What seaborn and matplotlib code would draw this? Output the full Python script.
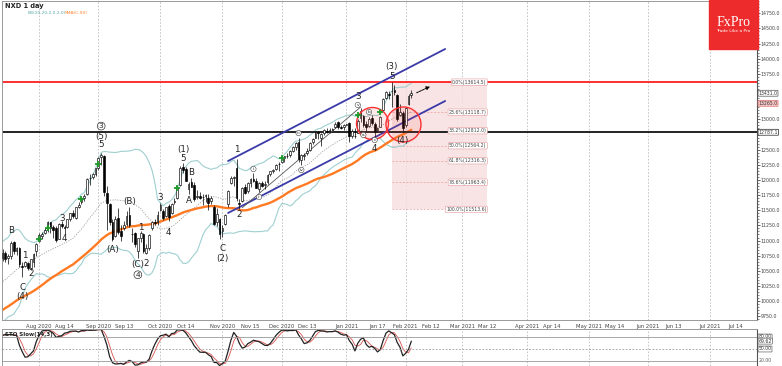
import numpy as np
import pandas as pd
import matplotlib
matplotlib.use("Agg")
import matplotlib.pyplot as plt
import matplotlib.transforms as mtrans
from matplotlib.patches import Rectangle
import seaborn as sns

# _____1. DATA _____
START = "2020-07-15"

# closes before the visible window (May 5 - Jul 14 2020), only used for SMA / BB / stochastic
pre_close = [9050, 9120, 9210, 9330,
             9400, 9240, 9110, 9170, 9250,
             9400, 9350, 9480, 9390, 9420,
             9430, 9410, 9430, 9400, 9560,
             9600, 9670, 9700, 9620, 9820,
             9920, 9950, 10100, 9590, 9690,
             9800, 9920, 9980, 10000, 9940,
             10080, 10150, 9930, 10030, 9790,
             9920, 10160, 10280, 10340, 10350,
             10600, 10510, 10680, 10730, 10870,
             10580, 10690]

# daily OHLC, Jul 15 2020 - Feb 3 2021 (weekdays)
opens = [10720, 10790, 10710, 10740, 10980, 10820, 10880, 10580, 10580, 10630, 10540, 10640, 10820,
         10990, 11080, 11130, 11170, 11300, 11220, 11200, 11030, 11280, 11230, 11230, 11360, 11460, 11380, 11560,
         11640, 11700, 11760, 12030, 12050, 12100,
         12200, 12380, 12400, 11780, 11600, 11300, 11080, 11370, 11150, 11200, 11280, 11420, 11100, 11120,
         10820, 11040, 11100, 10800, 10880, 11200, 11300, 11300,
         11500, 11480, 11400, 11570, 11450, 11640, 11700, 11920, 12210, 12180, 11850, 11960,
         11920, 11720, 11740, 11720, 11730, 11700, 11650, 11560, 11310, 11350,
         11150, 11280, 11600, 11950, 12030, 12200, 11620, 11650, 11880, 11820, 11950, 12010, 11990, 11850, 11950,
         11920, 11960, 12090, 12140, 12180, 12260,
         12300, 12360, 12400, 12410, 12480, 12540, 12630, 12330, 12400, 12440, 12500, 12620, 12700, 12790,
         12700, 12770, 12810, 12800, 12830, 12880, 12950, 12880, 12870,
         12910, 12940, 12720, 12730, 12780, 13020, 13050, 12920, 12890, 13020, 12920,
         12800, 12880, 13150, 13360, 13420, 13460, 13480, 13400, 13080, 13100,
         12900, 13250, 13410]
highs = [10860, 10820, 10780, 10990, 10990, 10900, 10900, 10640, 10660, 10650, 10700, 10800, 10960,
         11120, 11140, 11200, 11320, 11310, 11260, 11240, 11290, 11330, 11250, 11360, 11460, 11500, 11560, 11640,
         11720, 11760, 12030, 12100, 12110, 12200,
         12380, 12440, 12410, 11900, 11620, 11350, 11400, 11530, 11260, 11320, 11480, 11550, 11200, 11140,
         11050, 11150, 11120, 10940, 11110, 11330, 11350, 11480,
         11620, 11520, 11560, 11600, 11620, 11700, 11880, 12230, 12275, 12210, 11970, 12030,
         11960, 11830, 11800, 11760, 11760, 11760, 11730, 11580, 11530, 11380,
         11250, 11440, 11840, 12070, 12070, 12350, 11680, 11880, 11930, 11960, 12040, 12115, 12040, 11960, 11990,
         11980, 12100, 12150, 12180, 12260, 12290,
         12400, 12400, 12450, 12490, 12560, 12620, 12690, 12430, 12440, 12530, 12620, 12700, 12790, 12800,
         12780, 12840, 12860, 12850, 12850, 12960, 12980, 12910, 12930,
         12930, 12960, 12840, 12850, 13000, 13190, 13080, 12970, 13040, 13070, 12960,
         12880, 13060, 13360, 13470, 13470, 13614.5, 13560, 13420, 13260, 13130,
         13210, 13420, 13480]
lows = [10660, 10640, 10620, 10700, 10780, 10760, 10560, 10400, 10560, 10520, 10520, 10560, 10750,
        10970, 11020, 11100, 11140, 11120, 11050, 10980, 11020, 11200, 11110, 11210, 11330, 11380, 11350, 11530,
        11600, 11650, 11750, 11920, 12010, 12070,
        12170, 12250, 11740, 11180, 11250, 10990, 11060, 11100, 11000, 11170, 11240, 11230, 10980, 10900,
        10710, 10980, 10800, 10780, 10850, 11170, 11250, 11250,
        11480, 11340, 11390, 11330, 11440, 11600, 11690, 11900, 12120, 11980, 11760, 11880,
        11660, 11680, 11680, 11580, 11640, 11500, 11610, 11260, 11240, 11030,
        11060, 11260, 11560, 11930, 11900, 11650, 11513.6, 11640, 11760, 11780, 11890, 11960, 11860, 11800, 11880,
        11850, 11930, 12060, 12120, 12170, 12140,
        12280, 12300, 12370, 12380, 12460, 12490, 12290, 12250, 12330, 12420, 12480, 12600, 12690, 12680,
        12560, 12740, 12770, 12780, 12820, 12860, 12840, 12840, 12830,
        12900, 12620, 12690, 12690, 12770, 12960, 12880, 12800, 12870, 12910, 12690,
        12790, 12870, 13140, 13340, 13340, 13200, 13400, 12980, 13050, 12790,
        12880, 13230, 13350]
closes = [10800, 10700, 10740, 10960, 10830, 10870, 10610, 10560, 10640, 10540, 10690, 10780, 10950,
          11090, 11110, 11180, 11300, 11200, 11170, 11010, 11270, 11240, 11210, 11350, 11450, 11400, 11550, 11590,
          11700, 11740, 12010, 12040, 12090, 12190,
          12360, 12420, 11800, 11620, 11300, 11030, 11360, 11140, 11080, 11260, 11400, 11250, 11110, 10940,
          11040, 11120, 10820, 10880, 11090, 11300, 11290, 11420,
          11580, 11380, 11550, 11390, 11610, 11660, 11870, 12200, 12170, 11990, 11930, 11890,
          11690, 11740, 11710, 11720, 11750, 11620, 11710, 11270, 11440, 11100,
          11210, 11420, 11820, 12040, 12050, 11700, 11600, 11860, 11790, 11950, 12010, 11980, 11870, 11950, 11900,
          11930, 12080, 12140, 12170, 12250, 12270,
          12370, 12390, 12400, 12480, 12540, 12610, 12350, 12420, 12410, 12470, 12610, 12680, 12780, 12770,
          12760, 12820, 12790, 12830, 12840, 12920, 12870, 12860, 12910,
          12920, 12720, 12810, 12720, 12980, 13130, 12900, 12880, 13010, 12940, 12790,
          12860, 13040, 13340, 13450, 13400, 13460, 13450, 13000, 13120, 12860,
          13180, 13390, 13431]

# Elliott wave labels (date, price, text)
wave_labels = [("2020-07-20", 11170, "B"), ("2020-07-24", 10230, "C"), ("2020-07-24", 10070, "(4)"),
               ("2020-07-27", 10760, "1"), ("2020-07-29", 10450, "2"),
               ("2020-08-13", 11370, "3"), ("2020-08-14", 11030, "4"),
               ("2020-09-02", 12724, "(5)"), ("2020-09-02", 12577, "5"),
               ("2020-09-08", 10860, "(A)"), ("2020-09-16", 11640, "(B)"), ("2020-09-21", 10600, "(C)"),
               ("2020-09-22", 11210, "1"), ("2020-09-24", 10617, "2"),
               ("2020-10-01", 11703, "3"), ("2020-10-06", 11125, "4"),
               ("2020-10-13", 12510, "(1)"), ("2020-10-13", 12362, "5"),
               ("2020-10-16", 12131, "B"), ("2020-10-15", 11669, "A"),
               ("2020-11-02", 10877, "C"), ("2020-11-02", 10712, "(2)"),
               ("2020-11-09", 12510, "1"), ("2020-11-10", 11422, "2"),
               ("2021-01-07", 13385, "3"), ("2021-01-15", 12527, "4"),
               ("2021-01-25", 13864, "(3)"), ("2021-01-25", 13715, "5"),
               ("2021-01-29", 12659, "(4)")]
big_circled = [("2020-09-02", 12889, "3"), ("2020-09-21", 10436, "4")]
small_circled = [("2020-11-17", 12181, "i"), ("2020-11-19", 11719, "ii"), ("2020-12-09", 12774, "iii"),
                 ("2020-12-10", 12164, "iv"), ("2021-01-07", 13237, "v"), ("2021-01-11", 12742, "a"),
                 ("2021-01-13", 13122, "b"), ("2021-01-15", 12659, "c")]
signals = [("2020-08-03", 11026), ("2020-08-06", 11207), ("2020-08-24", 11686), ("2020-09-01", 12263),
           ("2020-10-09", 11867), ("2020-12-01", 12362), ("2021-01-07", 13073), ("2021-01-19", 13122)]

channel_top = [("2020-11-04", 12313), ("2021-02-19", 14161)]
channel_bot = [("2020-11-04", 11455), ("2021-02-19", 13303)]
base_line = [("2020-11-11", 11540), ("2021-01-08", 13203)]
circles = [("2021-01-14", 12938, 16), ("2021-01-29", 12922, 17.5)]   # radius in px

fib_names = ["0.0%", "23.6%", "38.2%", "50.0%", "61.8%", "78.6%", "100.0%"]
fib_prices = [13614.5, 13118.7, 12812.0, 12564.2, 12316.3, 11963.4, 11513.6]
fib_from, fib_to = "2021-01-25", "2021-03-12"
support = 12787.1
last_price, bid_price = 13431.0, 13265.0

tick_dates = [("Aug 2020", "2020-08-01"), ("Aug 14", "2020-08-14"), ("Sep 2020", "2020-09-01"),
              ("Sep 13", "2020-09-13"), ("Oct 2020", "2020-10-01"), ("Oct 14", "2020-10-14"),
              ("Nov 2020", "2020-11-01"), ("Nov 15", "2020-11-15"), ("Dec 2020", "2020-12-01"),
              ("Dec 13", "2020-12-13"), ("Jan 2021", "2021-01-01"), ("Jan 17", "2021-01-17"),
              ("Feb 2021", "2021-02-01"), ("Feb 12", "2021-02-12"), ("Mar 2021", "2021-03-01"),
              ("Mar 12", "2021-03-12"), ("Apr 2021", "2021-04-01"), ("Apr 14", "2021-04-14"),
              ("May 2021", "2021-05-01"), ("May 14", "2021-05-14"), ("Jun 2021", "2021-06-01"),
              ("Jun 13", "2021-06-13"), ("Jul 2021", "2021-07-01"), ("Jul 14", "2021-07-14")]

# _____2. INDICATORS _____
dates = pd.bdate_range(START, periods=len(closes) + 125)
pos = np.arange(len(closes))


def xpos(d):
    return int(np.searchsorted(dates, pd.Timestamp(d)))


all_pos = np.concatenate([np.arange(-len(pre_close), 0), pos])
c = pd.Series(pre_close + closes, index=all_pos, dtype=float)
h = pd.Series(pre_close + highs, index=all_pos, dtype=float)
lo = pd.Series(pre_close + lows, index=all_pos, dtype=float)

ind = pd.DataFrame({"pos": all_pos})
ind["sma"] = c.rolling(50).mean().values
mid = c.rolling(20).mean()
sd = c.rolling(20).std(ddof=0)
ind["bb_mid"] = mid.values
ind["bb_up"] = (mid + 2 * sd).values
ind["bb_dn"] = (mid - 2 * sd).values
fast_k = 100 * (c - lo.rolling(14).min()) / (h.rolling(14).max() - lo.rolling(14).min())
ind["k"] = fast_k.rolling(3).mean().values
ind["d"] = ind["k"].rolling(3).mean()
ind = ind[ind["pos"] >= -3]

# _____3. FIGURE _____
sns.set_style("white")
plt.rcParams["font.family"] = ["DejaVu Sans"]
W, H = 782, 366
fig = plt.figure(figsize=(W / 100, H / 100), dpi=100)


def rect(x0, y0, x1, y1):
    return [x0 / W, 1 - y1 / H, (x1 - x0) / W, (y1 - y0) / H]


ax = fig.add_axes(rect(2, 1, 757, 320))
axs = fig.add_axes(rect(2, 329, 757, 366), sharex=ax)
XLIM = (-0.18, 267.6)

# month grid
for m in pd.date_range("2020-08-01", "2021-07-01", freq="MS"):
    for a in (ax, axs):
        a.axvline(xpos(m), color="#bdbdbd", lw=0.6, ls=(0, (2, 2)), zorder=0)

# fibonacci box
f0, f1 = xpos(fib_from), xpos(fib_to)
ax.fill_between([f0, f1], fib_prices[-1], fib_prices[0], color="#f7dede", alpha=0.8, lw=0, zorder=0.5)
ax.hlines(fib_prices, f0, f1, colors="#e8a0a0", lw=0.5, linestyles=(0, (3, 2)), zorder=0.6)
for name, p in zip(fib_names, fib_prices):
    ax.text(f1 - 0.3, p, f"{name}({p:.1f})", fontsize=3.3, color="#444", ha="right", va="center", zorder=6,
            bbox=dict(boxstyle="round,pad=0.15", fc="white", ec="#e49a9a", lw=0.4))

ax.axhline(fib_prices[0], color="#ff1f1f", lw=1.3, zorder=2)
ax.axhline(support, color="#222222", lw=1.4, zorder=2)

# indicators
sns.lineplot(data=ind, x="pos", y="bb_up", ax=ax, color="#9fcfd0", lw=0.8, zorder=1)
sns.lineplot(data=ind, x="pos", y="bb_dn", ax=ax, color="#9fcfd0", lw=0.8, zorder=1)
sns.lineplot(data=ind, x="pos", y="bb_mid", ax=ax, color="#a0a0a0", lw=0.6, ls=(0, (1.5, 1.5)), zorder=1)
sns.lineplot(data=ind, x="pos", y="sma", ax=ax, color="#ff7a22", lw=1.7, zorder=1.5)

# channel + trend lines
for line, col, lw in [(channel_top, "#3a3aa8", 1.3), (channel_bot, "#3a3aa8", 1.3), (base_line, "#555555", 0.6)]:
    ax.plot([xpos(d) for d, _ in line], [p for _, p in line], color=col, lw=lw, zorder=3)

# candles
o, hi, lw_, cl = map(np.array, (opens, highs, lows, closes))
up = cl >= o
ax.vlines(pos, lw_, hi, color="black", lw=0.5, zorder=4)
ax.bar(pos[up], (cl - o)[up], bottom=o[up], width=0.62, color="white", edgecolor="black", lw=0.45, zorder=4.5)
ax.bar(pos[~up], (cl - o)[~up], bottom=o[~up], width=0.62, color="black", edgecolor="black", lw=0.45, zorder=4.5)

# red circles
for d, p, r in circles:
    ax.plot(xpos(d), p, "o", ms=2 * r * 0.72, mfc=(1, 0.3, 0.3, 0.12), mec="#ff3030", mew=1.0, zorder=5)

# signal crosses
ax.plot([xpos(d) for d, _ in signals], [p for _, p in signals], "+", color="#1f9a2a", ms=4, mew=1.3, zorder=5)

# wave labels
for d, p, t in wave_labels:
    ax.text(xpos(d), p, t, fontsize=6.3, color="#222", ha="center", va="center", zorder=6)
for d, p, t in big_circled:
    ax.text(xpos(d), p, t, fontsize=5.3, color="#222", ha="center", va="center", zorder=6,
            bbox=dict(boxstyle="circle,pad=0.12", fc="none", ec="#333", lw=0.5))
for d, p, t in small_circled:
    ax.text(xpos(d), p, t, fontsize=3.2, color="#222", ha="center", va="center", zorder=6,
            bbox=dict(boxstyle="circle,pad=0.15", fc="white", ec="#444", lw=0.4))

ax.annotate("", xy=(xpos("2021-02-12") + 0.5, 13560), xytext=(len(closes), 13420),
            arrowprops=dict(arrowstyle="-|>", color="black", lw=0.7, ls=(0, (2, 1)), mutation_scale=5), zorder=6)

# axes cosmetics
ax.set_xlim(*XLIM)
ax.set_ylim(9689, 14953)
ax.set_xlabel("")
ax.set_ylabel("")
ax.yaxis.tick_right()
yt = [v for v in np.arange(9750, 14751, 250) if v not in (12750, 13250, 13500)]
ax.set_yticks(yt)
ax.set_yticklabels([f"{v:.1f}" for v in yt])
ax.set_yticks(np.arange(9700, 14951, 50), minor=True)
ax.tick_params(axis="y", which="major", labelsize=3.4, labelcolor="#444", length=2, width=0.5, pad=0.8)
ax.tick_params(axis="y", which="minor", length=1.1, width=0.4)
ax.set_xticks([xpos(d) for _, d in tick_dates])
ax.set_xticklabels([lab for lab, _ in tick_dates])
ax.tick_params(axis="x", labelsize=3.8, labelcolor="#444", length=2, width=0.5, pad=1)
for s in ("left", "top", "bottom"):
    ax.spines[s].set_color("#999")
    ax.spines[s].set_linewidth(0.7)
ax.spines["right"].set_color("#555")
ax.spines["right"].set_linewidth(0.8)

ybl = mtrans.blended_transform_factory(ax.transAxes, ax.transData)
for val, fc, ec in [(last_price, "white", "#555"), (bid_price, "#f4c4c4", "#e07070"), (support, "white", "#222")]:
    ax.text(1.002, val, f"{val:.1f}", transform=ybl, fontsize=3.3, color="#333", ha="left", va="center",
            bbox=dict(boxstyle="round,pad=0.1", fc=fc, ec=ec, lw=0.5), zorder=7, clip_on=False)

# stochastic panel
sns.lineplot(data=ind, x="pos", y="d", ax=axs, color="#d9534f", lw=0.6)
sns.lineplot(data=ind, x="pos", y="k", ax=axs, color="#222", lw=0.9)
axs.axhline(80, color="#999", lw=0.6)
axs.axhline(50, color="#999", lw=0.6, ls=(0, (2, 2)))
axs.axhline(20, color="#999", lw=0.6)
axs.set_ylim(7.5, 100)
axs.set_xlim(*XLIM)
axs.set_xlabel("")
axs.set_ylabel("")
axs.set_yticks([])
axs.tick_params(axis="x", bottom=False, labelbottom=False)
for s in ("left", "top"):
    axs.spines[s].set_color("#999")
    axs.spines[s].set_linewidth(0.7)
axs.spines["bottom"].set_visible(False)
axs.spines["right"].set_color("#555")
axs.text(0.004, 0.8, "STO Slow(14,3)", transform=axs.transAxes, fontsize=4.0, weight="bold", color="#222")
sbl = mtrans.blended_transform_factory(axs.transAxes, axs.transData)
k_last = ind["k"].iloc[-1]
for val, txt in [(80, "80.00"), (k_last, f"{k_last:.2f}"), (50, "50.00")]:
    axs.text(1.002, val, txt, transform=sbl, fontsize=3.3, color="#333", ha="left", va="center", clip_on=False,
             bbox=dict(boxstyle="round,pad=0.1", fc="white", ec="#555", lw=0.45))
axs.text(1.002, 20, "20.00", transform=sbl, fontsize=3.3, color="#555", ha="left", va="center", clip_on=False)

# header texts
fig.text(5 / W, 1 - 6 / H, "NXD 1 day", fontsize=4.8, weight="bold", color="#222", va="center")
fig.text(28 / W, 1 - 13 / H, "BB(20,20,2.0,2.0)", fontsize=3.2, color="#5aa9aa", va="center")
fig.text(65 / W, 1 - 13 / H, "SMA(C,50)", fontsize=3.2, color="#ff7a22", va="center")

# FxPro logo
fig.patches.append(Rectangle((709 / W, 1 - 49 / H), 49 / W, 49 / H, transform=fig.transFigure,
                             color="#ee2b2c", zorder=10))
fig.text(733.5 / W, 1 - 22 / H, "FxPro", fontsize=10, color="white", ha="center", va="center",
         family=["Liberation Serif", "DejaVu Serif"], zorder=11)
fig.text(733.5 / W, 1 - 31.5 / H, "Trade Like a Pro", fontsize=3.2, color="white", ha="center", va="center",
         zorder=11)

fig.savefig("out.png", dpi=100)
